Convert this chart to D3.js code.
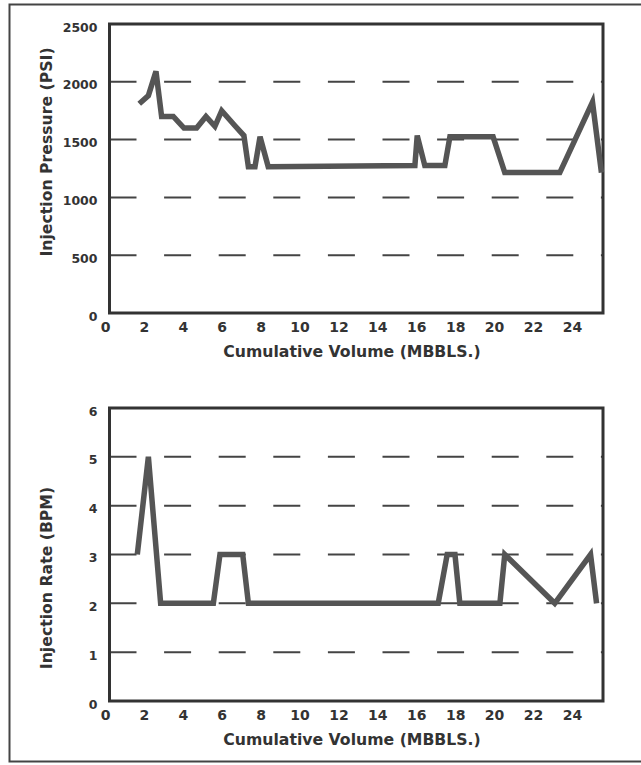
<!DOCTYPE html>
<html>
<head>
<meta charset="utf-8">
<script src="https://cdn.jsdelivr.net/npm/d3@7"></script>
<style>
  html, body { margin: 0; padding: 0; background: #fff; }
  svg { display: block; }
  text { font-family: "DejaVu Sans", sans-serif; font-weight: bold; fill: #333; }
</style>
</head>
<body>
<svg id="chart" width="641" height="765"></svg>
<script>
// ---- data ----
const xTicks = [0, 2, 4, 6, 8, 10, 12, 14, 16, 18, 20, 22, 24];
const pressureTicks = [0, 500, 1000, 1500, 2000, 2500];
const rateTicks = [0, 1, 2, 3, 4, 5, 6];

const pressureVolume = [1.76, 2.23, 2.62, 2.91, 3.51, 4.06, 4.71, 5.19, 5.65, 6.0, 6.68, 7.14, 7.37, 7.71, 7.97, 8.39, 15.93, 16.05, 16.44, 17.47, 17.73, 19.95, 20.55, 23.38, 25.06, 25.52];
const pressurePSI    = [1810, 1880, 2090, 1700, 1700, 1600, 1600, 1700, 1615, 1750, 1620, 1535, 1265, 1265, 1525, 1265, 1275, 1535, 1275, 1275, 1525, 1525, 1215, 1215, 1825, 1215];

const rateVolume = [1.66, 2.23, 2.86, 5.57, 5.91, 7.08, 7.37, 17.13, 17.59, 17.99, 18.24, 20.3, 20.55, 23.12, 24.96, 25.27];
const rateBPM    = [3, 5, 2, 2, 3, 3, 2, 2, 3, 3, 2, 2, 3, 2, 3, 2];

const xLabel = "Cumulative Volume (MBBLS.)";
const pressureLabel = "Injection Pressure (PSI)";
const rateLabel = "Injection Rate (BPM)";

// ---- layout ----
const svg = d3.select("#chart");
const frameLeft = 109.5, frameRight = 603;

// outer border
svg.append("path")
  .attr("d", "M645,4.5 H9.5 V761.5 H645")
  .attr("fill", "none").attr("stroke", "#444").attr("stroke-width", 2);

const x = d3.scaleLinear().domain([0, 25.6]).range([105, 603]);
const fmt = d3.format("d");

function panel(opts) {
  const y = d3.scaleLinear().domain([0, opts.max]).range([opts.bottom, opts.top]);
  const g = svg.append("g");

  // dashed gridlines
  g.selectAll("line.grid")
    .data(opts.ticks.filter(t => t > 0 && t < opts.max))
    .enter().append("line")
    .attr("x1", frameLeft).attr("x2", frameRight)
    .attr("y1", d => y(d)).attr("y2", d => y(d))
    .attr("stroke", "#444").attr("stroke-width", 2)
    .attr("stroke-dasharray", "27,27.6");

  // frame
  g.append("rect")
    .attr("x", frameLeft).attr("y", opts.top)
    .attr("width", frameRight - frameLeft).attr("height", opts.bottom - opts.top)
    .attr("fill", "none").attr("stroke", "#333").attr("stroke-width", 3);

  // data line
  const line = d3.line().x(d => x(d[0])).y(d => y(d[1]));
  g.append("path")
    .datum(d3.zip(opts.xs, opts.ys))
    .attr("d", line)
    .attr("fill", "none").attr("stroke", "#555")
    .attr("stroke-width", 5.5).attr("stroke-linejoin", "miter");

  // y axis labels
  const ya = g.append("g")
    .attr("transform", `translate(${frameLeft},3)`)
    .call(d3.axisLeft(y).tickValues(opts.ticks).tickFormat(fmt).tickSize(0).tickPadding(12));
  ya.select(".domain").remove();
  ya.selectAll("text").attr("font-size", 12.5).attr("font-family", "DejaVu Sans").attr("font-weight", "bold").attr("fill", "#333");

  // x axis labels
  const xa = g.append("g")
    .attr("transform", `translate(0,${opts.bottom})`)
    .call(d3.axisBottom(x).tickValues(xTicks).tickFormat(fmt).tickSize(0).tickPadding(9));
  xa.select(".domain").remove();
  xa.selectAll("text").attr("font-size", 14).attr("font-family", "DejaVu Sans").attr("font-weight", "bold").attr("fill", "#333");

  // axis titles
  g.append("text")
    .attr("x", 352).attr("y", opts.bottom + 44)
    .attr("text-anchor", "middle").attr("font-size", 15.7)
    .text(xLabel);
  g.append("text")
    .attr("transform", `translate(52,${opts.ylabelY}) rotate(-90)`)
    .attr("text-anchor", "middle").attr("font-size", 15.7)
    .text(opts.ylabel);
}

panel({ top: 24, bottom: 313, max: 2500, ticks: pressureTicks, xs: pressureVolume, ys: pressurePSI, ylabel: pressureLabel, ylabelY: 152 });
panel({ top: 408, bottom: 701, max: 6, ticks: rateTicks, xs: rateVolume, ys: rateBPM, ylabel: rateLabel, ylabelY: 578 });
</script>
</body>
</html>
